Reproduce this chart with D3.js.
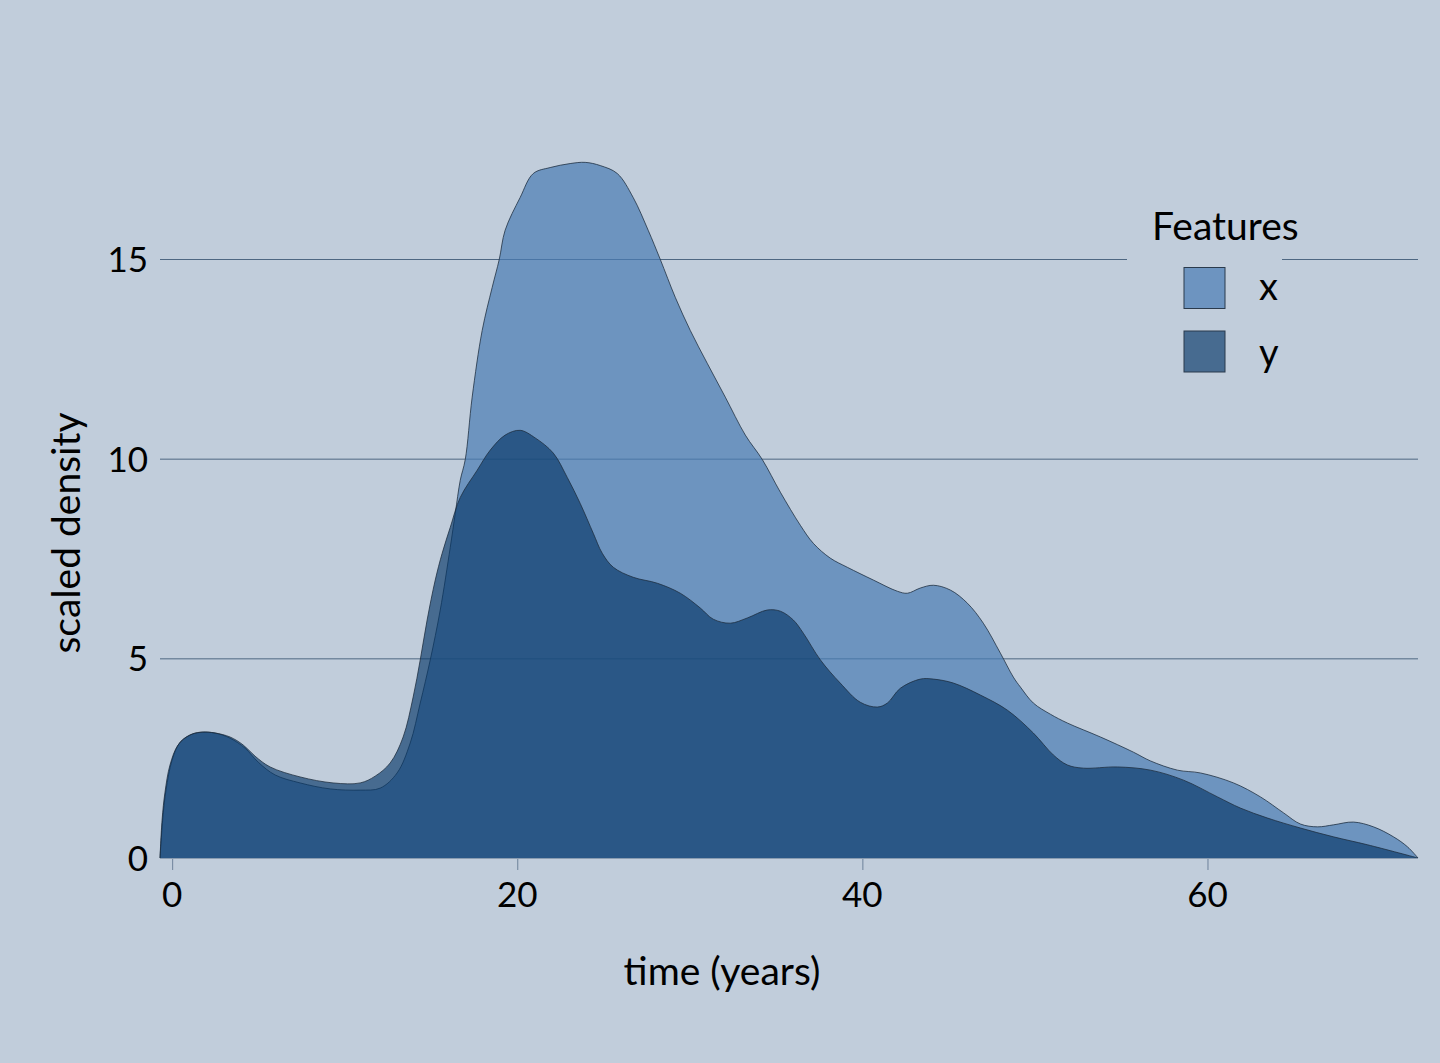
<!DOCTYPE html>
<html><head><meta charset="utf-8">
<script src="https://cdn.jsdelivr.net/npm/d3@7"></script>
<style>
html,body{margin:0;padding:0;background:#c1cddb;}
svg{display:block;}
text{font-family:"Source Sans Pro","Lato","Noto Sans",sans-serif;fill:#000;}
</style></head>
<body>
<svg id="chart" width="1440" height="1063"></svg>
<script>
// ---- data (years, scaled density) ----
const xTime = [-0.70,-0.52,-0.35,0,0.46,1.04,1.62,2.49,3.36,4.23,4.99,5.97,7.42,9.16,10.90,12.06,13.04,13.80,14.38,14.96,15.54,16.12,16.41,16.70,16.99,17.39,17.97,18.55,18.96,19.30,20.17,20.93,21.91,23.07,23.94,24.81,25.80,26.72,27.59,28.29,29.16,30.03,31.01,32.06,33.22,34.20,35.25,36.41,37.16,38.14,39.13,40.64,42.03,42.61,43.36,44.12,45.10,46.09,47.01,48.00,48.75,49.16,49.91,50.90,51.88,53.80,55.71,56.70,58.26,59.59,61.51,63.07,64.41,65.39,66.38,67.30,68.46,69.62,70.78,71.59,72.20];
const xDensity = [0,1.08,1.70,2.45,2.90,3.08,3.15,3.13,3.00,2.75,2.40,2.08,1.88,1.73,1.70,1.75,2.13,2.88,3.88,4.96,6.21,7.78,8.63,9.46,9.98,11.54,13.21,14.29,14.99,15.72,16.54,17.14,17.29,17.39,17.42,17.34,17.14,16.54,15.72,14.99,14.04,13.21,12.39,11.54,10.59,9.98,9.16,8.33,7.88,7.51,7.28,6.96,6.68,6.63,6.76,6.83,6.71,6.38,5.88,5.13,4.53,4.28,3.88,3.60,3.38,3.03,2.65,2.43,2.20,2.13,1.88,1.53,1.13,0.85,0.78,0.83,0.90,0.78,0.53,0.28,0];
const yTime = [-0.70,-0.58,-0.41,-0.12,0.35,1.04,1.74,2.49,3.36,4.12,4.81,5.68,7.42,9.33,10.90,11.77,12.64,13.39,13.97,14.38,14.78,15.25,15.65,16.12,16.70,17.68,18.43,19.30,20.17,21.04,22.09,22.90,23.65,24.41,24.93,25.57,26.72,28.12,29.45,30.61,31.36,32.35,33.33,34.49,35.25,36.00,36.58,37.57,38.72,39.88,40.87,41.45,42.20,43.36,44.12,45.28,46.84,48.41,49.91,51.07,51.88,52.81,54.78,56.70,58.61,60.58,61.91,63.48,65.39,67.30,69.28,72.20];
const yDensity = [0,0.95,1.65,2.33,2.83,3.08,3.15,3.13,3.03,2.83,2.55,2.28,2.03,1.88,1.88,2.05,2.38,3.03,4.03,4.96,5.96,6.96,7.63,8.28,9.03,9.71,10.21,10.59,10.71,10.52,10.14,9.53,8.88,8.13,7.63,7.28,7.03,6.88,6.63,6.26,5.98,5.88,6.01,6.21,6.18,5.96,5.63,4.96,4.38,3.90,3.78,3.88,4.25,4.48,4.48,4.38,4.08,3.70,3.13,2.58,2.33,2.25,2.28,2.20,1.95,1.53,1.25,1.00,0.75,0.53,0.33,0];
const xTicks = [0,20,40,60];
const yTicks = [0,5,10,15];
const seriesNames = ["x","y"];
const legendTitle = "Features";
const xTitle = "time (years)";
const yTitle = "scaled density";

// ---- layout ----
const svg = d3.select("#chart");
const bg = "#c1cddb";
svg.append("rect").attr("width",1440).attr("height",1063).attr("fill",bg);

const x = d3.scaleLinear().domain([-0.70,72.20]).range([160,1418]);
const y = d3.scaleLinear().domain([0,15]).range([858,259]);

const fills = {x:"rgba(73,124,179,0.7)", y:"rgba(8,56,104,0.66)"};
const keyFills = {x:"#6d94c0", y:"#476b90"};

// gridlines
svg.append("g").selectAll("line").data(yTicks.filter(d=>d>0)).join("line")
  .attr("x1",160).attr("x2",1418)
  .attr("y1",d=>y(d)+0.5).attr("y2",d=>y(d)+0.5)
  .attr("stroke","#4e6782").attr("stroke-width",1);

const series = [
  {name:"x", pts:xTime.map((t,i)=>[t,xDensity[i]])},
  {name:"y", pts:yTime.map((t,i)=>[t,yDensity[i]])}
];
const curve = d3.curveCatmullRom.alpha(0.5);
const area = d3.area().x(d=>x(d[0])).y0(y(0)).y1(d=>y(Math.max(0,d[1]))).curve(curve);
const line = d3.line().x(d=>x(d[0])).y(d=>y(Math.max(0,d[1]))).curve(curve);

series.forEach(s=>{
  svg.append("path").datum(s.pts).attr("d",area).attr("fill",fills[s.name]);
  svg.append("path").datum(s.pts).attr("d",line).attr("fill","none")
    .attr("stroke","#1c2b3c").attr("stroke-width",0.9).attr("stroke-opacity",0.85);
});

// axis line & ticks
svg.append("line").attr("x1",160).attr("x2",1418).attr("y1",858.5).attr("y2",858.5)
  .attr("stroke","#8a9cb1").attr("stroke-width",1);
svg.append("g").selectAll("line").data(xTicks).join("line")
  .attr("x1",d=>x(d)+0.5).attr("x2",d=>x(d)+0.5).attr("y1",859).attr("y2",870)
  .attr("stroke","#7b8ea5").attr("stroke-width",1.2);

// tick labels
svg.append("g").selectAll("text").data(xTicks).join("text")
  .attr("x",d=>x(d)).attr("y",907).attr("text-anchor","middle")
  .attr("font-size",35).text(d=>d);
svg.append("g").selectAll("text").data(yTicks).join("text")
  .attr("x",148).attr("y",d=>y(d)+13).attr("text-anchor","end")
  .attr("font-size",35).text(d=>d);

// axis titles
svg.append("text").attr("x",722).attr("y",985).attr("text-anchor","middle")
  .attr("font-size",39).text(xTitle);
svg.append("text").attr("transform","translate(80,533) rotate(-90)")
  .attr("text-anchor","middle").attr("font-size",39).text(yTitle);

// legend
const lg = svg.append("g");
lg.append("rect").attr("x",1127).attr("y",196).attr("width",155).attr("height",190).attr("fill",bg);
lg.append("text").attr("x",1152).attr("y",240).attr("font-size",39).text(legendTitle);
seriesNames.forEach((n,i)=>{
  lg.append("rect").attr("x",1184).attr("y",267.5+i*63.5).attr("width",41).attr("height",41)
    .attr("fill",keyFills[n]).attr("stroke","#2a3a4c").attr("stroke-width",1);
  lg.append("text").attr("x",1259).attr("y",300+i*66).attr("font-size",38).text(n);
});
</script>
</body></html>
